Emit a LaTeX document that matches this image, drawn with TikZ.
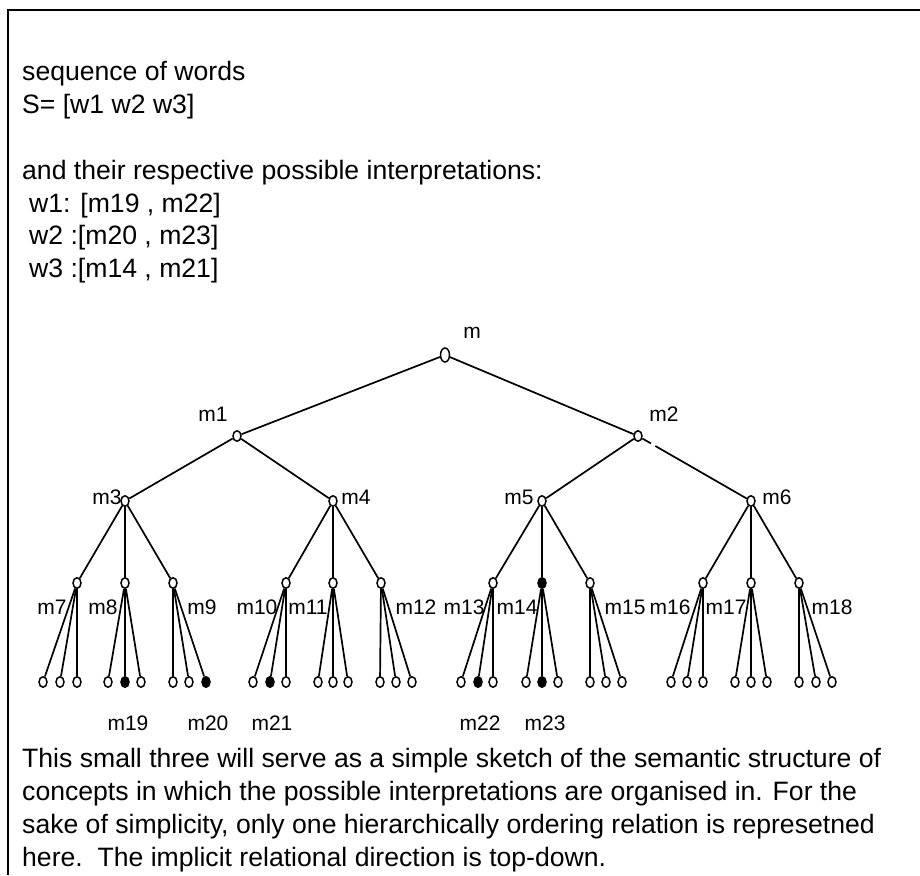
\documentclass[tikz,border=0pt]{standalone}
\usepackage{fontspec}
\setmainfont{Liberation Sans}
\usetikzlibrary{shapes.geometric}
\begin{document}
\begin{tikzpicture}[x=1pt,y=-1pt,
  nd/.style={ellipse,draw,line width=1.5pt,minimum width=8pt,minimum height=10.5pt,inner sep=0pt,fill=white},
  fnd/.style={nd,fill=black},
  rootnd/.style={nd,minimum width=9pt,minimum height=14pt},
  edge/.style={line width=1.7pt},
  lab/.style={inner sep=0pt,font=\fontsize{21}{21}\selectfont},
  txt/.style={anchor=base west,inner sep=0pt,font=\fontsize{26.6}{32}\selectfont}]
\useasboundingbox (0,0) rectangle (920,875);
\draw[line width=2.2pt] (8,875) -- (8,10) -- (920,10);

% upper text
\node[txt] (t1) at (22,81) {sequence of words};
\node[txt] (t2) at (22,113.5) {S= [w1 w2 w3]};
\node[txt] (t3) at (22,179.5) {and their respective possible interpretations:};
\node[txt] (t4) at (29,212) {w1: [m19 , m22]};
\node[txt] (t5) at (29,244.5) {w2 :[m20 , m23]};
\node[txt] (t6) at (29,277) {w3 :[m14 , m21]};

% tree nodes
\node[rootnd] (r) at (445,355) {};
\node[nd] (n1) at (237,436) {};
\node[nd] (n2) at (638,436) {};
\node[nd] (n3) at (125,501) {};
\node[nd] (n4) at (333,501) {};
\node[nd] (n5) at (542,501) {};
\node[nd] (n6) at (751,501) {};
\node[nd] (n7) at (77,583) {};
\node[nd] (n8) at (125,583) {};
\node[nd] (n9) at (173,583) {};
\node[nd] (n10) at (286,583) {};
\node[nd] (n11) at (333,583) {};
\node[nd] (n12) at (381,583) {};
\node[nd] (n13) at (493,583) {};
\node[fnd] (n14) at (542,583) {};
\node[nd] (n15) at (590,583) {};
\node[nd] (n16) at (703,583) {};
\node[nd] (n17) at (751,583) {};
\node[nd] (n18) at (799,583) {};

% leaves
\node[nd] (l7a) at (43,682) {};
\node[nd] (l7b) at (60,682) {};
\node[nd] (l7c) at (77,682) {};
\node[nd] (l8a) at (108,682) {};
\node[fnd] (l8b) at (125,682) {};
\node[nd] (l8c) at (141,682) {};
\node[nd] (l9a) at (173,682) {};
\node[nd] (l9b) at (189,682) {};
\node[fnd] (l9c) at (206,682) {};
\node[nd] (l10a) at (253,682) {};
\node[fnd] (l10b) at (270,682) {};
\node[nd] (l10c) at (286,682) {};
\node[nd] (l11a) at (318,682) {};
\node[nd] (l11b) at (333,682) {};
\node[nd] (l11c) at (348,682) {};
\node[nd] (l12a) at (380,682) {};
\node[nd] (l12b) at (396,682) {};
\node[nd] (l12c) at (412,682) {};
\node[nd] (l13a) at (461,682) {};
\node[fnd] (l13b) at (478,682) {};
\node[nd] (l13c) at (493,682) {};
\node[nd] (l14a) at (526,682) {};
\node[fnd] (l14b) at (542,682) {};
\node[nd] (l14c) at (558,682) {};
\node[nd] (l15a) at (590,682) {};
\node[nd] (l15b) at (606,682) {};
\node[nd] (l15c) at (622,682) {};
\node[nd] (l16a) at (671,682) {};
\node[nd] (l16b) at (687,682) {};
\node[nd] (l16c) at (703,682) {};
\node[nd] (l17a) at (735,682) {};
\node[nd] (l17b) at (751,682) {};
\node[nd] (l17c) at (767,682) {};
\node[nd] (l18a) at (799,682) {};
\node[nd] (l18b) at (816,682) {};
\node[nd] (l18c) at (832,682) {};

% edges
\foreach \p/\c in {r/n1,r/n2,n1/n3,n1/n4,n2/n5,
  n3/n7,n3/n8,n3/n9,n4/n10,n4/n11,n4/n12,
  n5/n13,n5/n14,n5/n15,n6/n16,n6/n17,n6/n18}
  \draw[edge] (\p) -- (\c);
\draw[edge,dash pattern=on 10pt off 5pt on 300pt] (n2) -- (n6);
\foreach \k in {7,...,18}
  \foreach \s in {a,b,c}
    \draw[edge] (n\k) -- (l\k\s);

% labels
\node[lab] (lm) at (472,333) {m};
\node[lab] (lm1) at (213,414) {m1};
\node[lab] (lm2) at (664,414) {m2};
\node[lab] (lm3) at (107,497) {m3};
\node[lab] (lm4) at (356,497) {m4};
\node[lab] (lm5) at (519,497) {m5};
\node[lab] (lm6) at (777,497) {m6};
\node[lab] (lm7) at (52,607) {m7};
\node[lab] (lm8) at (103,607) {m8};
\node[lab] (lm9) at (202,607) {m9};
\node[lab] (lm10) at (257,607) {m10};
\node[lab] (lm11) at (308,607) {m11};
\node[lab] (lm12) at (416,607) {m12};
\node[lab] (lm13) at (464,607) {m13};
\node[lab] (lm14) at (517,607) {m14};
\node[lab] (lm15) at (625,607) {m15};
\node[lab] (lm16) at (670,607) {m16};
\node[lab] (lm17) at (726,607) {m17};
\node[lab] (lm18) at (832,607) {m18};
\node[lab] (lm19) at (128,723) {m19};
\node[lab] (lm20) at (208,723) {m20};
\node[lab] (lm21) at (272,723) {m21};
\node[lab] (lm22) at (480,723) {m22};
\node[lab] (lm23) at (545,723) {m23};

% lower text
\node[txt] (b1) at (22,767) {This small three will serve as a simple sketch of the semantic structure of};
\node[txt] (b2) at (22,800) {concepts in which the possible interpretations are organised in. For the};
\node[txt] (b3) at (22,833) {sake of simplicity, only one hierarchically ordering relation is represetned};
\node[txt] (b4) at (22,866) {here.\ \ The implicit relational direction is top-down.};
\end{tikzpicture}
\end{document}
